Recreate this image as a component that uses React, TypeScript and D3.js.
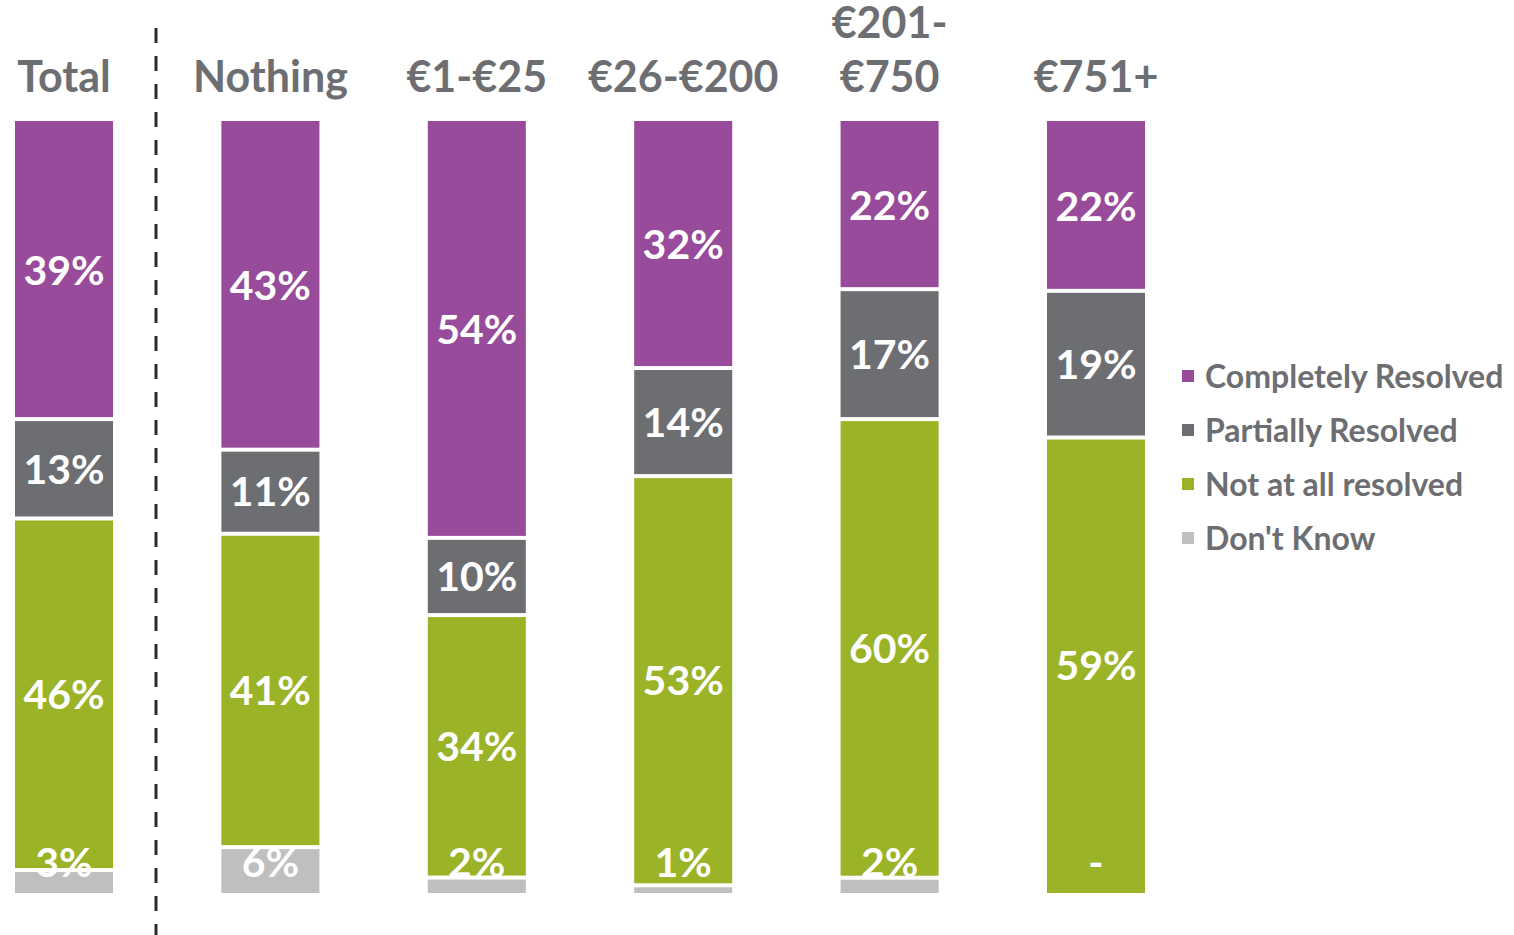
import React from "react";
import * as d3 from "d3";

const categories = ["Total", "Nothing", "€1-€25", "€26-€200", "€201-\n€750", "€751+"];
const seriesNames = ["Don't Know", "Not at all resolved", "Partially Resolved", "Completely Resolved"];
const dontKnow = [3, 6, 2, 1, 2, 0];
const notAtAll = [46, 41, 34, 53, 60, 59];
const partially = [13, 11, 10, 14, 17, 19];
const completely = [39, 43, 54, 32, 22, 22];
const colors = ["#BFBFBF", "#9BB327", "#6D6E72", "#984B9A"];
const legendOrder = [3, 2, 1, 0];

const W = 1514;
const H = 935;
const TEXT = "#6D6E72";
const FONT = "Lato, 'Open Sans', sans-serif";

export default function App() {
  const rows = categories.map((c, i) => ({
    cat: c,
    [seriesNames[0]]: dontKnow[i],
    [seriesNames[1]]: notAtAll[i],
    [seriesNames[2]]: partially[i],
    [seriesNames[3]]: completely[i],
  }));
  const stack = d3.stack<any>().keys(seriesNames).offset(d3.stackOffsetExpand);
  const series = stack(rows);

  const x = d3.scaleBand<string>().domain(categories).range([15, 1145]).paddingInner(0.525).paddingOuter(0);
  const y = d3.scaleLinear().domain([0, 1]).range([893, 121]);
  const bw = x.bandwidth();
  const gap = 2;

  const rects: any[] = [];
  const labels: any[] = [];
  categories.forEach((c, ci) => {
    const vals = series.map((s) => s[ci][1] - s[ci][0]);
    const nonzero = vals.map((v, k) => (v > 0 ? k : -1)).filter((k) => k >= 0);
    const lowest = nonzero[0];
    const highest = nonzero[nonzero.length - 1];
    series.forEach((s, si) => {
      const d = s[ci];
      const raw = [dontKnow, notAtAll, partially, completely][si][ci];
      const cx = (x(c) as number) + bw / 2;
      if (d[1] - d[0] > 0) {
        const yTop = y(d[1]) + (si === highest ? 0 : gap);
        const yBot = y(d[0]) - (si === lowest ? 0 : gap);
        rects.push(
          <rect key={`r${ci}-${si}`} x={x(c)} y={yTop} width={bw} height={Math.max(0, yBot - yTop)} fill={colors[si]} />
        );
      }
      const ly = si === 0 ? y(0) - 31 : (y(d[0]) + y(d[1])) / 2;
      labels.push(
        <text key={`l${ci}-${si}`} x={cx} y={ly} dy="0.36em" textAnchor="middle" fill="#FFFFFF"
          fontFamily={FONT} fontWeight={700} fontSize={41}>
          {raw === 0 ? "-" : `${raw}%`}
        </text>
      );
    });
  });

  return (
    <svg width={W} height={H} style={{ position: "absolute", left: 0, top: 0, display: "block" }}>
      <rect x={0} y={0} width={W} height={H} fill="#FFFFFF" />
      {categories.map((c, i) => {
        const lines = c.split("\n");
        const cx = (x(c) as number) + bw / 2;
        return (
          <text key={`t${i}`} x={cx} textAnchor="middle" fill={TEXT} fontFamily={FONT} fontWeight={700} fontSize={43}>
            {lines.map((ln, k) => (
              <tspan key={k} x={cx} y={92 - (lines.length - 1 - k) * 54}>{ln}</tspan>
            ))}
          </text>
        );
      })}
      <line x1={156} x2={156} y1={28} y2={H} stroke="#2B2B2B" strokeWidth={3} strokeDasharray="15,13" />
      {rects}
      {labels}
      {legendOrder.map((si, k) => {
        const ly = 376 + k * 54;
        return (
          <g key={`lg${k}`}>
            <rect x={1182} y={ly - 6} width={12} height={12} fill={colors[si]} />
            <text x={1205} y={ly} dy="0.36em" fill={TEXT} fontFamily={FONT} fontWeight={700} fontSize={32}>
              {seriesNames[si]}
            </text>
          </g>
        );
      })}
    </svg>
  );
}
